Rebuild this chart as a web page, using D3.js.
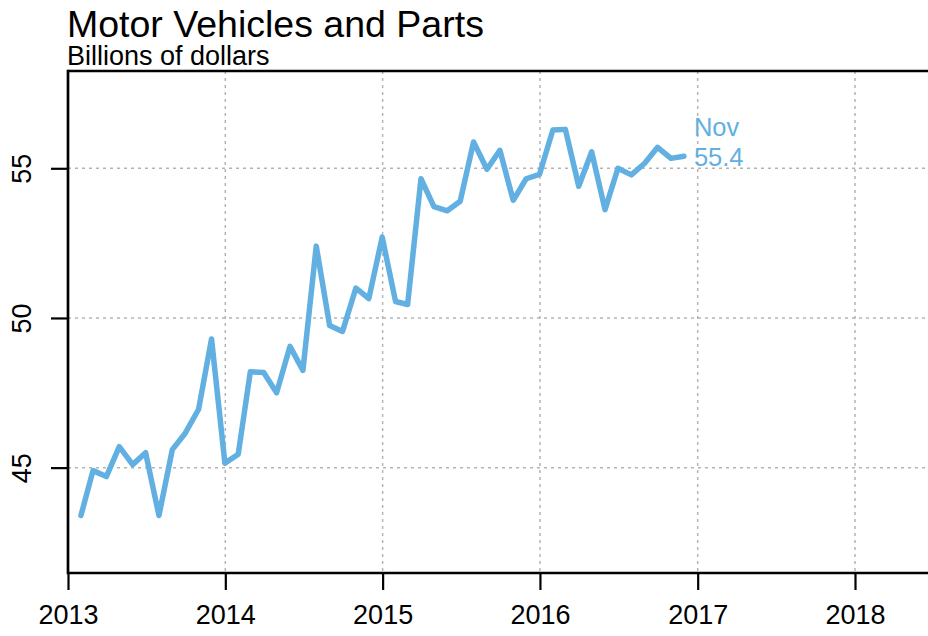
<!DOCTYPE html>
<html>
<head>
<meta charset="utf-8">
<script src="https://cdn.jsdelivr.net/npm/d3@7"></script>
<style>
  body { margin: 0; background: #fff; }
  svg { display: block; font-family: "Liberation Sans", Arial, Helvetica, sans-serif; }
</style>
</head>
<body>
<svg id="chart"></svg>
<script>
// Monthly values, Jan 2013 .. Nov 2016 (billions of dollars)
const firstYear = 2013;
const firstMonth = 0; // January
const values = [
  43.4, 44.9, 44.7, 45.7, 45.1, 45.5, 43.4, 45.6, 46.15, 46.95, 49.3, 45.15,
  45.45, 48.2, 48.18, 47.5, 49.05, 48.25, 52.4, 49.75, 49.55, 51.0, 50.65, 52.7,
  50.55, 50.45, 54.65, 53.72, 53.58, 53.9, 55.88, 54.97, 55.6, 53.93, 54.65, 54.8,
  56.28, 56.3, 54.4, 55.55, 53.62, 55.0, 54.78, 55.17, 55.7, 55.33, 55.4
];
const yTicks = [45, 50, 55];
const xTickYears = [2013, 2014, 2015, 2016, 2017, 2018];
const title = "Motor Vehicles and Parts";
const subtitle = "Billions of dollars";

const width = 928, height = 636;
const lineColor = "#62afe1";
const gridColor = "#b4b4b4";

// each value is plotted at the end of its month
const data = values.map((v, i) => ({
  date: new Date(firstYear, firstMonth + i + 1, 0),
  value: v
}));

const svg = d3.select("#chart")
  .attr("width", width)
  .attr("height", height);

const plotLeft = 68, plotTop = 71, plotBottom = 573;

const x = d3.scaleTime()
  .domain([new Date(2013, 0, 1), new Date(2018, 0, 1)])
  .range([plotLeft, 855]);

const y = d3.scaleLinear()
  .domain([41.48, 58.25])
  .range([plotBottom, plotTop]);

// grid
const grid = svg.append("g")
  .attr("stroke", gridColor)
  .attr("stroke-width", 1.5)
  .attr("stroke-dasharray", "3,4");

grid.selectAll(".vgrid")
  .data(xTickYears)
  .enter()
  .append("line")
  .attr("x1", d => x(new Date(d, 0, 1)))
  .attr("x2", d => x(new Date(d, 0, 1)))
  .attr("y1", plotTop)
  .attr("y2", plotBottom);

grid.selectAll(".hgrid")
  .data(yTicks)
  .enter()
  .append("line")
  .attr("x1", plotLeft)
  .attr("x2", width)
  .attr("y1", d => y(d))
  .attr("y2", d => y(d));

// series line
const line = d3.line()
  .x(d => x(d.date))
  .y(d => y(d.value));

svg.append("path")
  .datum(data)
  .attr("fill", "none")
  .attr("stroke", lineColor)
  .attr("stroke-width", 5.5)
  .attr("stroke-linejoin", "round")
  .attr("stroke-linecap", "round")
  .attr("d", line);

// end label
const last = data[data.length - 1];
const label = svg.append("text")
  .attr("fill", lineColor)
  .style("font-size", "25.5px");
label.append("tspan")
  .attr("x", x(last.date) + 10)
  .attr("y", y(last.value) - 20)
  .text(d3.timeFormat("%b")(last.date));
label.append("tspan")
  .attr("x", x(last.date) + 10)
  .attr("y", y(last.value) + 10)
  .text(d3.format(".1f")(last.value));

// frame: left axis, top and bottom lines
const frame = svg.append("g")
  .attr("stroke", "#000")
  .attr("stroke-width", 2.7)
  .attr("fill", "none");
frame.append("line").attr("x1", plotLeft).attr("x2", plotLeft).attr("y1", plotTop - 1.3).attr("y2", plotBottom + 1.3);
frame.append("line").attr("x1", plotLeft).attr("x2", width).attr("y1", plotTop).attr("y2", plotTop);
frame.append("line").attr("x1", plotLeft).attr("x2", width).attr("y1", plotBottom).attr("y2", plotBottom);

// x axis
const xAxis = svg.append("g")
  .attr("transform", `translate(0,${plotBottom})`)
  .call(d3.axisBottom(x)
    .tickValues(xTickYears.map(yr => new Date(yr, 0, 1)))
    .tickFormat(d3.timeFormat("%Y"))
    .tickSize(17)
    .tickPadding(15));
xAxis.select(".domain").remove();
xAxis.selectAll(".tick line").attr("stroke", "#000").attr("stroke-width", 2.2);
xAxis.selectAll(".tick text")
  .attr("fill", "#000")
  .style("font-size", "27px")
  .style("font-family", "\"Liberation Sans\", Arial, sans-serif");

// y axis
const yAxis = svg.append("g")
  .attr("transform", `translate(${plotLeft},0)`)
  .call(d3.axisLeft(y)
    .tickValues(yTicks)
    .tickFormat(d3.format("d"))
    .tickSize(17)
    .tickPadding(8));
yAxis.select(".domain").remove();
yAxis.selectAll(".tick line").attr("stroke", "#000").attr("stroke-width", 2.2);
yAxis.selectAll(".tick text")
  .attr("fill", "#000")
  .attr("x", null)
  .attr("dy", null)
  .attr("transform", "translate(-37,0) rotate(-90)")
  .attr("text-anchor", "middle")
  .style("font-size", "27px")
  .style("font-family", "\"Liberation Sans\", Arial, sans-serif");

// titles
svg.append("text")
  .attr("x", plotLeft - 1)
  .attr("y", 37)
  .style("font-size", "37.5px")
  .text(title);

svg.append("text")
  .attr("x", plotLeft - 1)
  .attr("y", 65)
  .style("font-size", "27px")
  .text(subtitle);
</script>
</body>
</html>
